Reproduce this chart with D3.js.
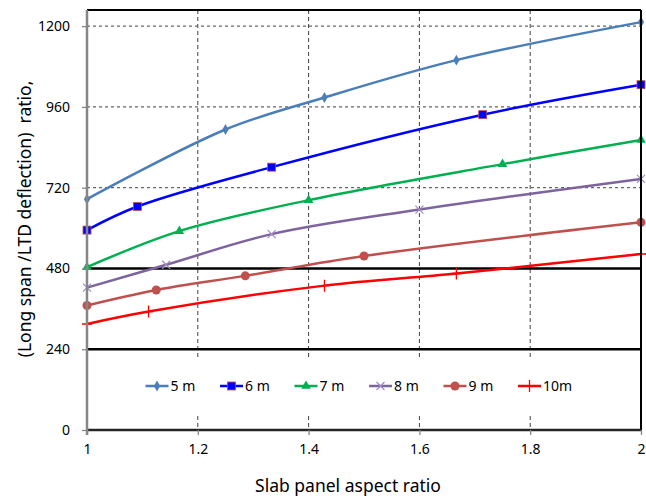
<!DOCTYPE html>
<html>
<head>
<meta charset="utf-8">
<script src="https://cdn.jsdelivr.net/npm/d3@7"></script>
<style>
  body { margin: 0; background: #fff; }
  svg { display: block; font-family: "Noto Sans", "Open Sans", sans-serif; }
</style>
</head>
<body>
<svg id="chart"></svg>
<script>
// chart values
const seriesNames = ['5 m', '6 m', '7 m', '8 m', '9 m', '10m'];
const xValues = [
  [1, 1.25, 1.4286, 1.6667, 2],
  [1, 1.0909, 1.3333, 1.7143, 2],
  [1, 1.1667, 1.4, 1.75, 2],
  [1, 1.1429, 1.3333, 1.6, 2],
  [1, 1.125, 1.2857, 1.5, 2],
  [1, 1.1111, 1.4286, 1.6667, 2]
];
const yValues = [
  [686, 893, 988, 1099, 1212],
  [594, 664, 781, 937, 1026],
  [484, 591, 683, 790, 862],
  [423, 491, 582, 655, 746],
  [370, 416, 458, 517, 617],
  [315, 352, 429, 465, 523]
];
const xTicks = [1, 1.2, 1.4, 1.6, 1.8, 2];
const yTicks = [0, 240, 480, 720, 960, 1200];
const solidLines = [240, 480];
const dashedLines = [720, 960, 1200];

const colours = ['#4a7ebb', '#0000ff', '#00b050', '#7e649e', '#c0504d', '#ff0000'];
const markers = ['diamond', 'square', 'triangle', 'x', 'circle', 'plus'];

const config = {
  width: 646,
  height: 502,
  margin: { top: 10, right: 5, bottom: 72, left: 87 }
};
const innerW = config.width - config.margin.left - config.margin.right;
const innerH = config.height - config.margin.top - config.margin.bottom;

const svg = d3.select('#chart')
  .attr('width', config.width)
  .attr('height', config.height);

const chartArea = svg.append('g')
  .attr('transform', `translate(${config.margin.left},${config.margin.top})`);

const xScale = d3.scaleLinear().domain([1, 2]).range([0, innerW]);
const yScale = d3.scaleLinear().domain([0, 1248]).range([innerH, 0]);

// dashed gridlines
chartArea.selectAll('.vgrid')
  .data(xTicks.slice(1, -1))
  .join('line')
  .attr('class', 'vgrid')
  .attr('x1', d => xScale(d)).attr('x2', d => xScale(d))
  .attr('y1', 0).attr('y2', innerH)
  .attr('stroke', '#404040')
  .attr('stroke-width', 1)
  .attr('stroke-dasharray', '4,3');

chartArea.selectAll('.hgrid')
  .data(dashedLines)
  .join('line')
  .attr('class', 'hgrid')
  .attr('x1', 0).attr('x2', innerW)
  .attr('y1', d => yScale(d)).attr('y2', d => yScale(d))
  .attr('stroke', '#666')
  .attr('stroke-width', 1.3)
  .attr('stroke-dasharray', '3,3');

chartArea.selectAll('.hsolid')
  .data(solidLines)
  .join('line')
  .attr('class', 'hsolid')
  .attr('x1', 0).attr('x2', innerW)
  .attr('y1', d => yScale(d)).attr('y2', d => yScale(d))
  .attr('stroke', '#000')
  .attr('stroke-width', 2.5);

// series lines
const line = d3.line()
  .x(d => xScale(d[0]))
  .y(d => yScale(d[1]))
  .curve(d3.curveCatmullRom.alpha(0.5));

const seriesData = seriesNames.map((name, i) => ({
  name,
  colour: colours[i],
  marker: markers[i],
  points: xValues[i].map((x, j) => [x, yValues[i][j]])
}));

chartArea.selectAll('.series')
  .data(seriesData)
  .join('path')
  .attr('class', 'series')
  .attr('d', d => line(d.points))
  .attr('fill', 'none')
  .attr('stroke', d => d.colour)
  .attr('stroke-width', 2.5);

function drawMarker(g, type, colour) {
  if (type === 'diamond') {
    g.append('path').attr('d', d3.symbol(d3.symbolDiamond, 34)())
      .attr('fill', colour);
  } else if (type === 'square') {
    g.append('rect').attr('x', -4).attr('y', -4).attr('width', 8).attr('height', 8)
      .attr('fill', colour).attr('stroke', '#c0504d').attr('stroke-width', 0.8);
  } else if (type === 'triangle') {
    g.append('path').attr('d', d3.symbol(d3.symbolTriangle, 40)())
      .attr('fill', colour);
  } else if (type === 'circle') {
    g.append('circle').attr('r', 4.5).attr('fill', colour);
  } else if (type === 'x') {
    g.append('path').attr('d', 'M-4,-4L4,4M-4,4L4,-4')
      .attr('stroke', '#a08cc0').attr('stroke-width', 1.2).attr('fill', 'none');
  } else if (type === 'plus') {
    g.append('path').attr('d', 'M-5,0L5,0M0,-6L0,6')
      .attr('stroke', colour).attr('stroke-width', 1.3).attr('fill', 'none');
  }
}

seriesData.forEach(s => {
  chartArea.selectAll(null)
    .data(s.points)
    .join('g')
    .attr('transform', d => `translate(${xScale(d[0])},${yScale(d[1])})`)
    .each(function () { drawMarker(d3.select(this), s.marker, s.colour); });
});

// legend with white box covering the gridlines
const legendY = 376;
const legend = chartArea.append('g');
legend.append('rect')
  .attr('x', 42).attr('y', 348)
  .attr('width', 440).attr('height', 56)
  .attr('fill', '#fff');

const legendItems = legend.selectAll('.legend-item')
  .data(seriesData)
  .join('g')
  .attr('class', 'legend-item')
  .attr('transform', (d, i) => `translate(${58.5 + i * 74.5},${legendY})`);

legendItems.append('line')
  .attr('x1', 0).attr('x2', 23)
  .attr('stroke', d => d.colour)
  .attr('stroke-width', 2.5);
legendItems.append('g')
  .attr('transform', 'translate(11.5,0)')
  .each(function (d) { drawMarker(d3.select(this), d.marker, d.colour); });
legendItems.append('text')
  .attr('x', 25)
  .attr('dy', '0.35em')
  .attr('font-size', 14)
  .attr('fill', '#000')
  .text(d => d.name);

// frame: top and right black, left and bottom axes
chartArea.append('line')
  .attr('x1', 0).attr('x2', innerW).attr('y1', 0).attr('y2', 0)
  .attr('stroke', '#000').attr('stroke-width', 2);
chartArea.append('line')
  .attr('x1', innerW).attr('x2', innerW).attr('y1', 0).attr('y2', innerH)
  .attr('stroke', '#000').attr('stroke-width', 2);
chartArea.append('line')
  .attr('x1', 0).attr('x2', innerW).attr('y1', innerH).attr('y2', innerH)
  .attr('stroke', '#262626').attr('stroke-width', 2.5);

const xAxis = d3.axisBottom(xScale).tickValues(xTicks).tickSize(5).tickPadding(9)
  .tickFormat(d3.format('~g'));
const yAxis = d3.axisLeft(yScale).tickValues(yTicks).tickSize(5).tickPadding(12)
  .tickFormat(d3.format('d'));

const xAxisG = chartArea.append('g')
  .attr('transform', `translate(0,${innerH})`)
  .call(xAxis);
const yAxisG = chartArea.append('g').call(yAxis);

[xAxisG, yAxisG].forEach(g => {
  g.select('.domain').remove();
  g.selectAll('.tick line').attr('stroke', '#868686').attr('stroke-width', 1.3);
  g.selectAll('.tick text')
    .attr('font-size', 14)
    .attr('font-family', '"Noto Sans", sans-serif')
    .attr('fill', '#000');
});

chartArea.append('line')
  .attr('x1', 0).attr('x2', 0).attr('y1', 0).attr('y2', innerH + 5)
  .attr('stroke', '#868686').attr('stroke-width', 2.5);

// axis titles
chartArea.append('text')
  .attr('x', xScale(1.5) - 16)
  .attr('y', innerH + 62)
  .attr('text-anchor', 'middle')
  .attr('font-size', 17.5)
  .attr('fill', '#000')
  .text('Slab panel aspect ratio');

chartArea.append('text')
  .attr('transform', 'rotate(-90)')
  .attr('x', -innerH / 2 + 1)
  .attr('y', -config.margin.left + 31)
  .attr('text-anchor', 'middle')
  .attr('font-size', 17.5)
  .attr('fill', '#000')
  .attr('xml:space', 'preserve')
  .style('white-space', 'pre')
  .text('(Long span /LTD deflection)  ratio,');
</script>
</body>
</html>
